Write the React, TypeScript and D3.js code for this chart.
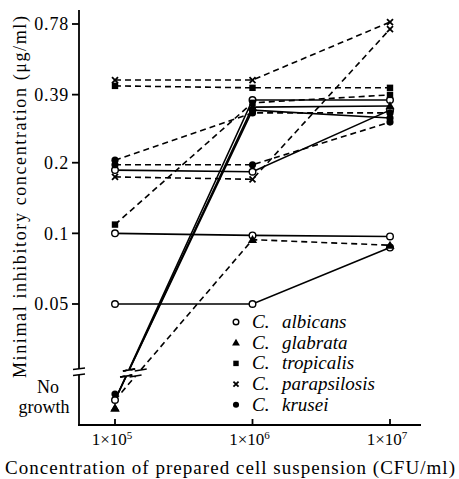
import React from 'react'
import * as d3 from 'd3'

// x: concentration of prepared cell suspension (CFU/ml)
const cellCounts = [1e5, 1e6, 1e7]
const cellExponents = ['5', '6', '7']
// y: MIC (µg/ml), log2 axis
const micTicks = [0.05, 0.1, 0.2, 0.39, 0.78]
const NG = null // no growth

// MIC of each strain at 1e5, 1e6, 1e7 CFU/ml
const albicansMic = [
  [0.1, 0.098, 0.097],
  [0.05, 0.05, 0.087],
  [0.186, 0.183, 0.335],
  [NG, 0.37, 0.37],
]
const albicansDash = [false, false, false, false]
const glabrataMic = [
  [NG, 0.345, 0.349],
  [NG, 0.094, 0.089],
]
const glabrataDash = [false, true]
const tropicalisMic = [
  [0.425, 0.417, 0.417],
  [0.109, 0.36, 0.389],
]
const tropicalisDash = [true, true]
const parapsilosisMic = [
  [0.45, 0.45, 0.795],
  [0.174, 0.17, 0.742],
]
const parapsilosisDash = [true, true]
const kruseiMic = [
  [0.205, 0.326, 0.326],
  [0.196, 0.196, 0.298],
  [NG, 0.335, 0.31],
]
const kruseiDash = [true, true, false]

const speciesNames = ['albicans', 'glabrata', 'tropicalis', 'parapsilosis', 'krusei']
const speciesMic = [albicansMic, glabrataMic, tropicalisMic, parapsilosisMic, kruseiMic]
const speciesDash = [albicansDash, glabrataDash, tropicalisDash, parapsilosisDash, kruseiDash]

const FONT = 'Liberation Serif, serif'

const x = d3.scaleLog().domain([1e5, 1e7]).range([115, 390])
const y = d3.scaleLog().domain([0.05, 0.78]).range([304, 24])
const ngY = 400
const breakY = 373
const yOf = (v: number | null) => (v == null ? ngY : y(v))
const ngNudge = [0, 8, 0, 0, -6]

function Marker({ kind, cx, cy, s = 1 }: { kind: number; cx: number; cy: number; s?: number }) {
  if (kind === 0)
    return <circle cx={cx} cy={cy} r={3.3 * s} fill="white" stroke="black" strokeWidth={1.4} />
  if (kind === 1) {
    const p = d3.path()
    p.moveTo(cx, cy - 4.6 * s)
    p.lineTo(cx + 4.6 * s, cy + 3.4 * s)
    p.lineTo(cx - 4.6 * s, cy + 3.4 * s)
    p.closePath()
    return <path d={p.toString()} fill="black" />
  }
  if (kind === 2)
    return <rect x={cx - 3.2 * s} y={cy - 3.2 * s} width={6.4 * s} height={6.4 * s} fill="black" />
  if (kind === 3)
    return (
      <g stroke="black" strokeWidth={1.8}>
        <line x1={cx - 3 * s} y1={cy - 3 * s} x2={cx + 3 * s} y2={cy + 3 * s} />
        <line x1={cx - 3 * s} y1={cy + 3 * s} x2={cx + 3 * s} y2={cy - 3 * s} />
      </g>
    )
  return <circle cx={cx} cy={cy} r={3.6 * s} fill="black" />
}

export default function App() {
  const line = d3
    .line<[number, number | null]>()
    .x((d) => x(d[0]))
    .y((d) => yOf(d[1]))

  const strains: { kind: number; vals: (number | null)[]; dashed: boolean }[] = []
  speciesMic.forEach((list, k) =>
    list.forEach((vals, i) => strains.push({ kind: k, vals, dashed: speciesDash[k][i] }))
  )

  // break marks where the no-growth lines cross
  const breaks = strains
    .filter((s) => s.vals[0] == null)
    .map((s) => {
      const x0 = x(cellCounts[0])
      const x1 = x(cellCounts[1])
      const y1 = yOf(s.vals[1])
      const t = (ngY - breakY) / (ngY - y1)
      return { cx: x0 + (x1 - x0) * t, slope: (x1 - x0) / (ngY - y1) }
    })

  return (
    <svg width={459} height={479} style={{ position: 'absolute', left: 0, top: 0, fontFamily: FONT }}>
      <rect width={459} height={479} fill="white" />

      {/* axes */}
      <g stroke="black" strokeWidth={1.8} fill="none">
        <line x1={79} y1={10} x2={79} y2={426} />
        <line x1={78} y1={425} x2={421} y2={425} />
        {micTicks.map((t) => (
          <line key={t} x1={72} x2={79} y1={y(t)} y2={y(t)} />
        ))}
        {cellCounts.map((c) => (
          <line key={c} x1={x(c)} x2={x(c)} y1={419} y2={425} />
        ))}
      </g>
      {/* axis break */}
      <rect x={76} y={369} width={6} height={6} fill="white" />
      <g stroke="black" strokeWidth={1.5}>
        <line x1={73} y1={369.5} x2={85} y2={368} />
        <line x1={73} y1={375.5} x2={85} y2={374} />
      </g>

      {micTicks.map((t) => (
        <text key={t} x={69} y={y(t)} dy="0.36em" textAnchor="end" fontSize={18} letterSpacing={0.8}>
          {String(t)}
        </text>
      ))}
      <text x={48} y={393} textAnchor="middle" fontSize={18}>No</text>
      <text x={44} y={413} textAnchor="middle" fontSize={18}>growth</text>

      {cellCounts.map((c, i) => (
        <text key={c} x={x(c) - 3} y={445} textAnchor="middle" fontSize={17}>
          1×10<tspan fontSize={11} dy={-6}>{cellExponents[i]}</tspan>
        </text>
      ))}

      <text
        transform="translate(26,197) rotate(-90)"
        textAnchor="middle"
        fontSize={18}
        textLength={362}
        lengthAdjust="spacing"
      >
        Minimal inhibitory concentration (μg/ml)
      </text>
      <text x={230} y={474} textAnchor="middle" fontSize={19} textLength={450} lengthAdjust="spacing">
        Concentration of prepared cell suspension (CFU/ml)
      </text>

      {/* strains */}
      <g fill="none" stroke="black" strokeWidth={1.6}>
        {strains.map((s, i) => (
          <path
            key={i}
            d={line(cellCounts.map((c, j) => [c, s.vals[j]] as [number, number | null])) || ''}
            strokeDasharray={s.dashed ? '6,4' : undefined}
          />
        ))}
      </g>
      {breaks.map((b, i) => (
        <g key={i}>
          <line
            x1={b.cx - b.slope * 3}
            y1={breakY + 3}
            x2={b.cx + b.slope * 3}
            y2={breakY - 3}
            stroke="white"
            strokeWidth={4}
          />
          <g stroke="black" strokeWidth={1.4}>
            <line x1={b.cx - b.slope * 3 - 6} y1={breakY + 4} x2={b.cx - b.slope * 3 + 6} y2={breakY + 2} />
            <line x1={b.cx + b.slope * 3 - 6} y1={breakY - 2} x2={b.cx + b.slope * 3 + 6} y2={breakY - 4} />
          </g>
        </g>
      ))}
      {strains.map((s, i) =>
        cellCounts.map((c, j) => (
          <Marker
            key={i + '-' + j}
            kind={s.kind}
            cx={x(c)}
            cy={yOf(s.vals[j]) + (s.vals[j] == null ? ngNudge[s.kind] : 0)}
          />
        ))
      )}

      {/* legend */}
      {speciesNames.map((n, i) => (
        <g key={n} transform={`translate(236,${322 + i * 20.7})`}>
          <Marker kind={i} cx={0} cy={0} s={0.85} />
          <text x={16} y={6} fontSize={19} fontStyle="italic">C.</text>
          <text x={46} y={6} fontSize={19} fontStyle="italic">{n}</text>
        </g>
      ))}
    </svg>
  )
}
